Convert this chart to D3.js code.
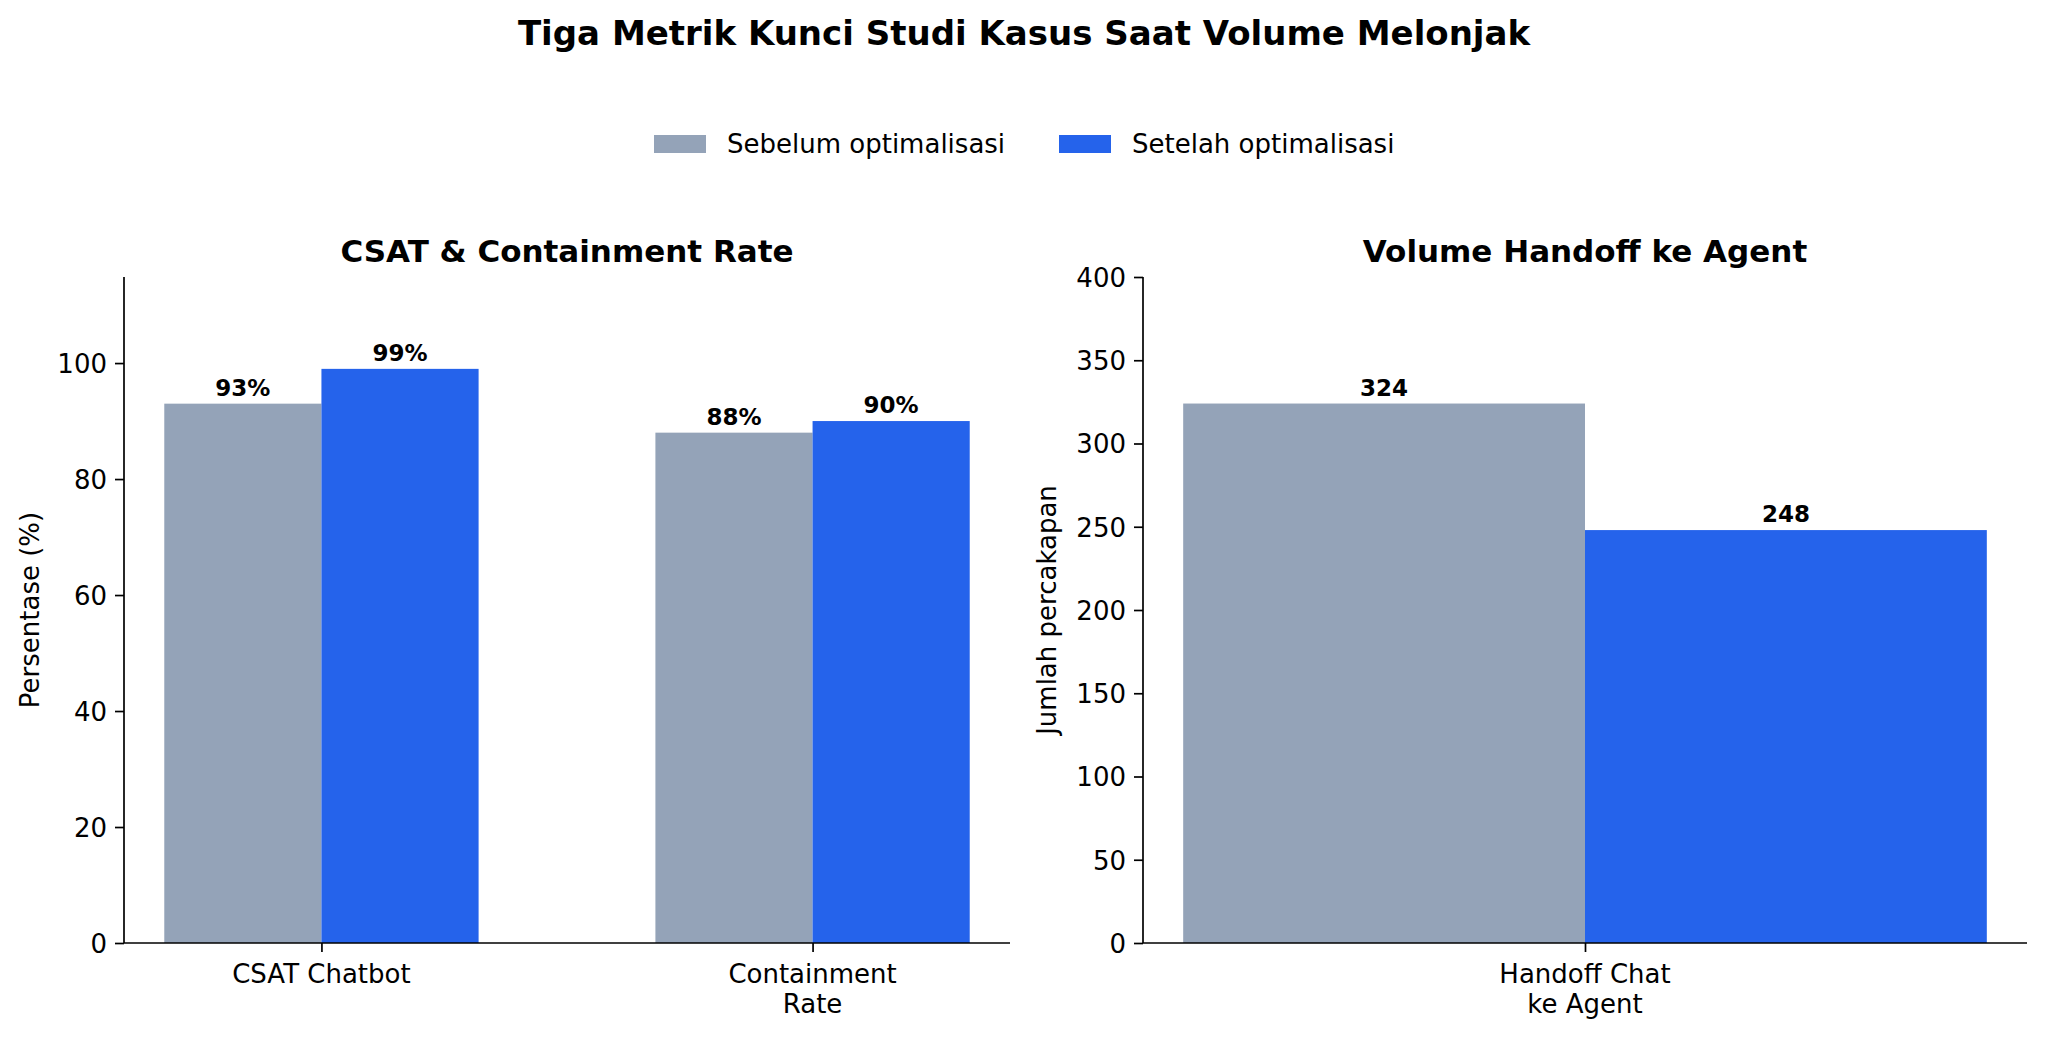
<!DOCTYPE html>
<html>
<head>
<meta charset="utf-8">
<script src="https://cdn.jsdelivr.net/npm/d3@7"></script>
<style>
  html, body { margin: 0; padding: 0; background: #fff; }
  svg { display: block; }
  text { font-family: "DejaVu Sans", sans-serif; fill: #000; }
</style>
</head>
<body>
<svg id="chart" width="2048" height="1037"></svg>
<script>
// ---- Data ----
const seriesNames = ["Sebelum optimalisasi", "Setelah optimalisasi"];
const seriesColors = ["#94a3b8", "#2563eb"];

const leftCategories = [["CSAT Chatbot"], ["Containment", "Rate"]];
const leftBefore = [93, 88];
const leftAfter = [99, 90];
const leftTicks = [0, 20, 40, 60, 80, 100];

const rightCategories = [["Handoff Chat", "ke Agent"]];
const rightBefore = [324];
const rightAfter = [248];
const rightTicks = [0, 50, 100, 150, 200, 250, 300, 350, 400];

const mainTitle = "Tiga Metrik Kunci Studi Kasus Saat Volume Melonjak";
const leftTitle = "CSAT & Containment Rate";
const rightTitle = "Volume Handoff ke Agent";
const leftYLabel = "Persentase (%)";
const rightYLabel = "Jumlah percakapan";

// ---- Drawing ----
const svg = d3.select("#chart");
const barW = 0.32;

svg.append("text").attr("x", 1024).attr("y", 45).attr("text-anchor", "middle")
  .attr("font-size", 34).attr("font-weight", "bold").text(mainTitle);

// legend
const legendItems = [
  { name: seriesNames[0], color: seriesColors[0], x: 654 },
  { name: seriesNames[1], color: seriesColors[1], x: 1059 }
];
legendItems.forEach(it => {
  svg.append("rect").attr("x", it.x).attr("y", 135).attr("width", 52).attr("height", 18).attr("fill", it.color);
  svg.append("text").attr("x", it.x + 73).attr("y", 153).attr("font-size", 26).text(it.name);
});

function panel(opts) {
  const { x0, x1, y0, y1, cats, before, after, ymax, ticks, title, ylabel, ylabelX, fmt } = opts;
  const n = cats.length;
  const lo = -barW, hi = (n - 1) + barW;
  const m = 0.05 * (hi - lo);
  const x = d3.scaleLinear().domain([lo - m, hi + m]).range([x0, x1]);
  const y = d3.scaleLinear().domain([0, ymax]).range([y1, y0]);
  const g = svg.append("g");

  // bars
  const data = [];
  cats.forEach((c, i) => {
    data.push({ i, v: before[i], s: 0 });
    data.push({ i, v: after[i], s: 1 });
  });
  g.selectAll("rect.bar").data(data).enter().append("rect")
    .attr("class", "bar")
    .attr("x", d => d.s === 0 ? x(d.i - barW) : x(d.i))
    .attr("width", d => x(barW) - x(0))
    .attr("y", d => y(d.v))
    .attr("height", d => y(0) - y(d.v))
    .attr("fill", d => seriesColors[d.s]);

  g.selectAll("text.val").data(data).enter().append("text")
    .attr("class", "val")
    .attr("x", d => d.s === 0 ? x(d.i - barW / 2) : x(d.i + barW / 2))
    .attr("y", d => y(d.v) - 8)
    .attr("text-anchor", "middle")
    .attr("font-size", 23).attr("font-weight", "bold")
    .text(d => fmt(d.v));

  // y axis
  const yAxis = d3.axisLeft(y).tickValues(ticks).tickSize(9).tickPadding(8).tickFormat(d3.format("d"));
  const ya = g.append("g").attr("transform", `translate(${x0},0)`).call(yAxis);
  ya.select(".domain").attr("stroke", "#000").attr("stroke-width", 1.7).attr("d", `M0,${y0}V${y1}`);
  ya.selectAll(".tick line").attr("stroke", "#000").attr("stroke-width", 1.7);
  ya.selectAll(".tick text").attr("font-size", 26).attr("font-family", "DejaVu Sans").attr("fill", "#000").attr("dy", "0.36em");

  // x axis
  const xAxis = d3.axisBottom(x).tickValues(d3.range(n)).tickSize(9).tickFormat("");
  const xa = g.append("g").attr("transform", `translate(0,${y1})`).call(xAxis);
  xa.select(".domain").attr("stroke", "#000").attr("stroke-width", 1.7).attr("d", `M${x0},0H${x1}`);
  xa.selectAll(".tick line").attr("stroke", "#000").attr("stroke-width", 1.7);
  cats.forEach((lines, i) => {
    const t = g.append("text").attr("x", x(i)).attr("y", y1 + 40).attr("text-anchor", "middle").attr("font-size", 26);
    lines.forEach((ln, k) => t.append("tspan").attr("x", x(i)).attr("dy", k === 0 ? 0 : 30).text(ln));
  });

  // titles
  g.append("text").attr("x", (x0 + x1) / 2).attr("y", 262).attr("text-anchor", "middle")
    .attr("font-size", 31).attr("font-weight", "bold").text(title);
  g.append("text").attr("transform", `translate(${ylabelX},${(y0 + y1) / 2}) rotate(-90)`)
    .attr("text-anchor", "middle").attr("font-size", 26).text(ylabel);
}

panel({ x0: 124, x1: 1010, y0: 277, y1: 943, cats: leftCategories, before: leftBefore, after: leftAfter,
  ymax: 99 * 1.16, ticks: leftTicks, title: leftTitle, ylabel: leftYLabel, ylabelX: 39, fmt: v => v + "%" });
panel({ x0: 1143, x1: 2027, y0: 277, y1: 943, cats: rightCategories, before: rightBefore, after: rightAfter,
  ymax: 400, ticks: rightTicks, title: rightTitle, ylabel: rightYLabel, ylabelX: 1056, fmt: v => String(v) });
</script>
</body>
</html>
